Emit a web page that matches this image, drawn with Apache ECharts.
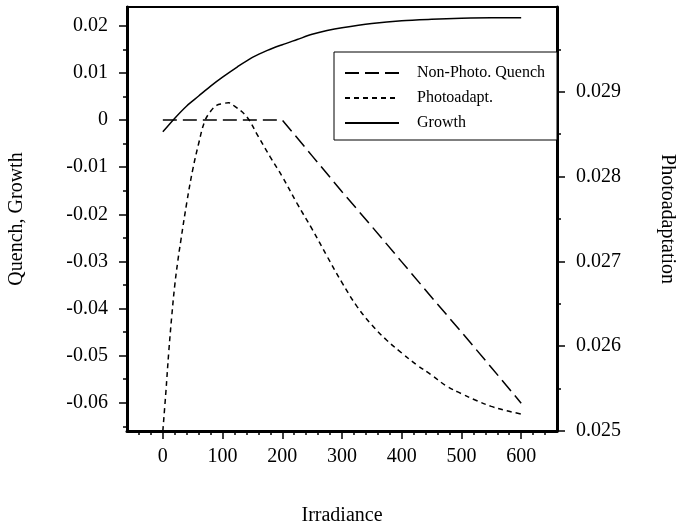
<!DOCTYPE html>
<html>
<head>
<meta charset="utf-8">
<script src="https://cdn.jsdelivr.net/npm/echarts@6/dist/echarts.min.js"></script>
<style>
  html, body { margin: 0; padding: 0; background: #fff; }
</style>
</head>
<body>
<div id="myChart" style="width:677px;height:526px"></div>
<script>
// irradiance values for each curve
var quenchX = [0, 200, 250, 300, 350, 400, 450, 500, 550, 600]
var quenchY = [0, 0, -0.0076, -0.0152, -0.0226, -0.0301, -0.0376, -0.0450, -0.0525, -0.0601]

var growthX = [0, 20, 40, 60, 80, 100, 125, 150, 175, 200, 225, 250, 275, 300, 350, 400, 450, 500, 550, 600]
var growthY = [-0.0025, 0.0004, 0.0030, 0.0051, 0.0072, 0.0091, 0.0113, 0.0133, 0.0148, 0.0160, 0.0171, 0.0182, 0.0190, 0.0196, 0.0205, 0.0211, 0.0214, 0.0216, 0.0217, 0.0217]

var photoX = [0, 5, 10, 15, 20, 25, 30, 40, 50, 60, 70, 80, 90, 100, 110, 120, 140, 160, 180, 200, 225, 250, 275, 300, 325, 350, 375, 400, 425, 450, 475, 500, 525, 550, 575, 600]
var photoY = [0.02500, 0.02545, 0.02594, 0.02636, 0.02672, 0.02700, 0.02724, 0.02769, 0.02808, 0.02839, 0.02865, 0.02877, 0.02884, 0.02886, 0.02887, 0.02883, 0.02871, 0.02847, 0.02823, 0.02800, 0.02768, 0.02738, 0.02706, 0.02675, 0.02647, 0.02625, 0.02607, 0.02592, 0.02578, 0.02566, 0.02553, 0.02544, 0.02536, 0.02529, 0.02524, 0.02520]

// tick labels
var xTicks = [0, 100, 200, 300, 400, 500, 600]
var xMinor = [-40, -20, 20, 40, 60, 80, 120, 140, 160, 180, 220, 240, 260, 280, 320, 340, 360, 380, 420, 440, 460, 480, 520, 540, 560, 580, 620, 640]
var leftTicks = [-0.06, -0.05, -0.04, -0.03, -0.02, -0.01, 0, 0.01, 0.02]
var leftMinor = [-0.065, -0.055, -0.045, -0.035, -0.025, -0.015, -0.005, 0.005, 0.015]
var rightTicks = [0.025, 0.026, 0.027, 0.028, 0.029]
var rightMinor = [0.0255, 0.0265, 0.0275, 0.0285, 0.0295]

function pairs (xs, ys) {
  return xs.map(function (x, i) { return [x, ys[i]] })
}

var font = 'Liberation Serif'
var black = '#000'

function majorAxis (pos, min, max, ticks) {
  return {
    type: 'value',
    position: pos,
    min: min,
    max: max,
    splitLine: { show: false },
    axisLine: { show: true, onZero: false, lineStyle: { color: black, width: 3 } },
    axisTick: { show: true, inside: false, length: 8, customValues: ticks, lineStyle: { color: black, width: 1.5 } },
    axisLabel: { customValues: ticks, color: black, fontFamily: font, fontSize: 20, margin: 16 },
    nameTextStyle: { color: black, fontFamily: font, fontSize: 20 }
  }
}

function minorAxis (pos, min, max, ticks) {
  return {
    type: 'value',
    position: pos,
    min: min,
    max: max,
    splitLine: { show: false },
    axisLine: { show: false, onZero: false },
    axisTick: { show: true, inside: false, length: 4, customValues: ticks, lineStyle: { color: black, width: 1.5 } },
    axisLabel: { show: false }
  }
}

var xMain = majorAxis('bottom', -60, 660, xTicks)
xMain.name = 'Irradiance'
xMain.nameLocation = 'middle'
xMain.nameGap = 75

var yLeft = majorAxis('left', -0.066, 0.024, leftTicks)
yLeft.name = 'Quench, Growth'
yLeft.nameLocation = 'middle'
yLeft.nameRotate = 90
yLeft.nameGap = 100
yLeft.axisLabel.margin = 19

var yRight = majorAxis('right', 0.025, 0.030, rightTicks)
yRight.name = 'Photoadaptation'
yRight.nameLocation = 'middle'
yRight.nameRotate = -90
yRight.nameGap = 100
yRight.axisLabel.margin = 19

var options = {
  animation: false,
  color: [black, black, black],
  grid: {
    left: 127, right: 120, top: 7, bottom: 95,
    outerBoundsMode: 'none',
    containLabel: false,
    show: true, borderColor: black, borderWidth: 2, backgroundColor: 'transparent'
  },
  legend: {
    orient: 'vertical',
    left: 334,
    top: 52,
    width: 224,
    selectedMode: false,
    backgroundColor: '#fff',
    borderColor: black,
    borderWidth: 1,
    padding: [13, 12, 9, 10],
    itemWidth: 54,
    itemHeight: 14,
    itemGap: 9,
    itemStyle: { opacity: 0 },
    textStyle: { color: black, fontFamily: font, fontSize: 16, padding: [0, 0, 0, 13] },
    data: ['Non-Photo. Quench', 'Photoadapt.', 'Growth']
  },
  xAxis: [xMain, minorAxis('bottom', -60, 660, xMinor)],
  yAxis: [yLeft, yRight, minorAxis('left', -0.066, 0.024, leftMinor), minorAxis('right', 0.025, 0.030, rightMinor)],
  series: [{
    name: 'Non-Photo. Quench',
    type: 'line',
    xAxisIndex: 0,
    yAxisIndex: 0,
    symbol: 'none',
    data: pairs(quenchX, quenchY),
    lineStyle: { color: black, width: 1.5, type: [14, 6] }
  }, {
    name: 'Photoadapt.',
    type: 'line',
    xAxisIndex: 0,
    yAxisIndex: 1,
    symbol: 'none',
    smooth: 0.4,
    data: pairs(photoX, photoY),
    lineStyle: { color: black, width: 1.5, type: [5, 4] }
  }, {
    name: 'Growth',
    type: 'line',
    xAxisIndex: 0,
    yAxisIndex: 0,
    symbol: 'none',
    smooth: 0.3,
    data: pairs(growthX, growthY),
    lineStyle: { color: black, width: 1.5, type: 'solid' }
  }]
}

var myChart = echarts.init(document.getElementById('myChart'))
myChart.setOption(options)
</script>
</body>
</html>
